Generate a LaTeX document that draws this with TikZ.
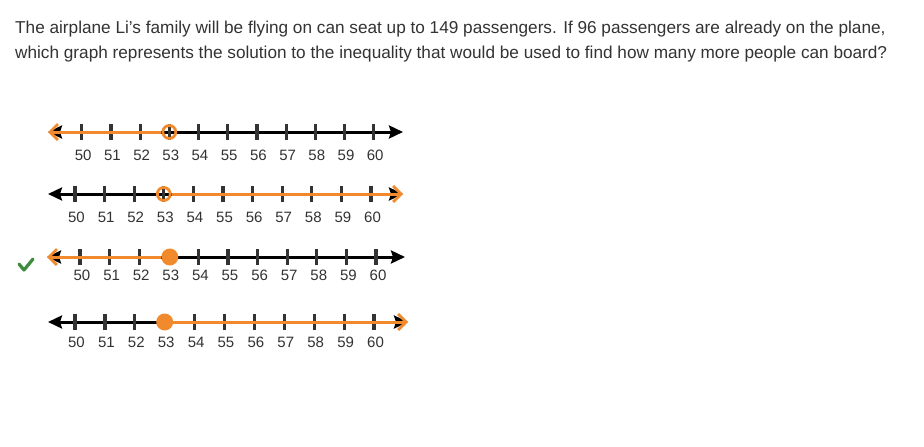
\documentclass[tikz,border=0pt]{standalone}
\usepackage{fontspec}
\setmainfont{Liberation Sans}
\usetikzlibrary{arrows.meta}
\definecolor{txt}{HTML}{333333}
\definecolor{org}{HTML}{F08A2C}
\definecolor{chk}{HTML}{3C8C3C}
\tikzset{
  ot/.tip={Straight Barb[length=8pt,width=16pt,line width=2.8pt]},
  bt/.tip={Stealth[length=14pt,width=13pt,inset=2pt]}
}
\begin{document}
\begin{tikzpicture}[x=1pt,y=-1pt,
  axis/.style={line width=3pt, black, bt-bt},
  tickmark/.style={line width=3.2pt, txt},
  lab/.style={font=\fontsize{15}{17}\selectfont, text=txt, inner sep=0pt},
  orngline/.style={line width=3pt, org},
  opendot/.style={circle, draw=org, line width=2.8pt, minimum size=13pt, inner sep=0pt},
  fulldot/.style={circle, fill=org, minimum size=17pt, inner sep=0pt},
  qtext/.style={font=\fontsize{17.2}{20}\selectfont, text=txt, anchor=base west, inner sep=0pt}]
\useasboundingbox (0,0) rectangle (924,447);
\fill[white] (0,0) rectangle (924,447);
% question
\node[qtext] (q1) at (15,33) {The airplane Li's family will be flying on can seat up to 149 passengers. If 96 passengers are already on the plane,};
\node[qtext] (q2) at (15,58.5) {which graph represents the solution to the inequality that would be used to find how many more people can board?};
% line 1
\coordinate (A1) at (48,132); \coordinate (B1) at (403,132);
\draw[axis] (A1) -- (B1);
\foreach \i in {0,...,10} {
  \pgfmathsetmacro\xx{81.7+29.2*\i}
  \coordinate (T1\i) at (\xx,132);
  \draw[tickmark] ([yshift=-8pt]T1\i) -- ([yshift=8pt]T1\i);
  \node[lab] (N1\i) at (\xx+1.5,155) {\the\numexpr50+\i\relax};
}
\node[opendot] (C1) at (T13) {};
\draw[orngline,ot-] (A1) -- (C1.west);
% line 2
\coordinate (A2) at (48,194); \coordinate (B2) at (403,194);
\draw[axis] (A2) -- (B2);
\foreach \i in {0,...,10} {
  \pgfmathsetmacro\xx{75+29.6*\i}
  \coordinate (T2\i) at (\xx,194);
  \draw[tickmark] ([yshift=-8pt]T2\i) -- ([yshift=8pt]T2\i);
  \node[lab] (N2\i) at (\xx+1.5,217) {\the\numexpr50+\i\relax};
}
\node[opendot] (C2) at (T23) {};
\draw[orngline,-ot] (C2.east) -- (B2);
% line 3
\coordinate (A3) at (47,257); \coordinate (B3) at (405,257);
\draw[axis] (A3) -- (B3);
\foreach \i in {0,...,10} {
  \pgfmathsetmacro\xx{80+29.6*\i}
  \coordinate (T3\i) at (\xx,257);
  \draw[tickmark] ([yshift=-8pt]T3\i) -- ([yshift=8pt]T3\i);
  \node[lab] (N3\i) at (\xx+2,275) {\the\numexpr50+\i\relax};
}
\node[fulldot] (C3) at ([xshift=1pt]T33) {};
\draw[orngline,ot-] (A3) -- (C3);
% check mark
\coordinate (K1) at (19,264); \coordinate (K2) at (24,270); \coordinate (K3) at (33,259);
\draw[chk, line width=3.2pt, line cap=round, line join=round] (K1) -- (K2) -- (K3);
% line 4
\coordinate (A4) at (48,322); \coordinate (B4) at (408,322);
\draw[axis] (A4) -- (B4);
\foreach \i in {0,...,10} {
  \pgfmathsetmacro\xx{75+29.9*\i}
  \coordinate (T4\i) at (\xx,322);
  \draw[tickmark] ([yshift=-8pt]T4\i) -- ([yshift=8pt]T4\i);
  \node[lab] (N4\i) at (\xx+1.5,342) {\the\numexpr50+\i\relax};
}
\node[fulldot] (C4) at (T43) {};
\draw[orngline,-ot] (C4) -- (B4);
\end{tikzpicture}
\end{document}
